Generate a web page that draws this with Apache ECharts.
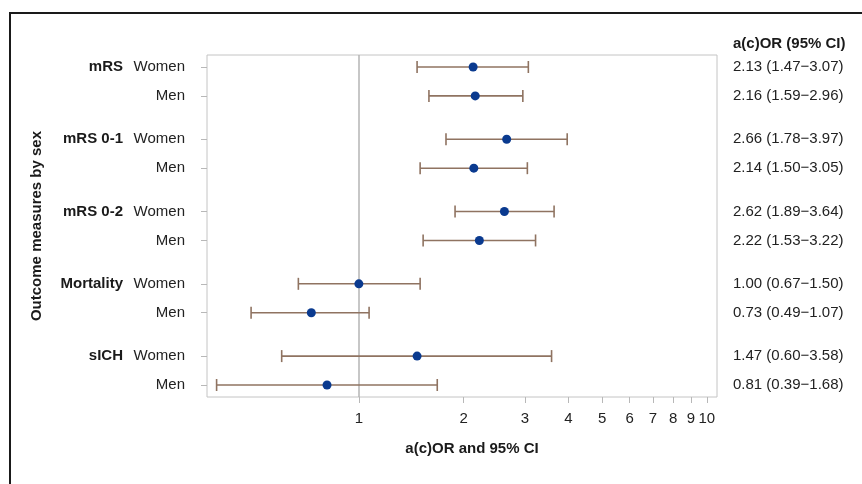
<!DOCTYPE html>
<html>
<head>
<meta charset="utf-8">
<script src="https://cdn.jsdelivr.net/npm/echarts@6/dist/echarts.min.js"></script>
<style>html,body{margin:0;padding:0;background:#fff}#c{width:862px;height:484px}</style>
</head>
<body>
<div id="c"></div>
<script>
var groups = ['mRS', 'mRS 0-1', 'mRS 0-2', 'Mortality', 'sICH'];
var sexes = ['Women', 'Men'];
var estimate = [2.13, 2.16, 2.66, 2.14, 2.62, 2.22, 1.00, 0.73, 1.47, 0.81];
var lower    = [1.47, 1.59, 1.78, 1.50, 1.89, 1.53, 0.67, 0.49, 0.60, 0.39];
var upper    = [3.07, 2.96, 3.97, 3.05, 3.64, 3.22, 1.50, 1.07, 3.58, 1.68];
var xTicks = [1, 2, 3, 4, 5, 6, 7, 8, 9, 10];

var FONT = "'Liberation Sans', Arial, sans-serif";
// vertical slot of each row: rows within a group 2 units apart, groups 5 units apart
var rowPos = estimate.map(function (v, i) { return Math.floor(i / 2) * 5 + (i % 2) * 2; });
function rowIndex(v) { return rowPos.indexOf(Math.round(v)); }
function fmt(v) { return v.toFixed(2); }

var pointData = estimate.map(function (v, i) { return [v, rowPos[i]]; });
var ciData = estimate.map(function (v, i) { return [lower[i], upper[i], rowPos[i]]; });

var chart = echarts.init(document.getElementById('c'));
chart.setOption({
  animation: false,
  textStyle: { fontFamily: FONT },
  grid: { left: 207, right: 145, top: 55, bottom: 87, show: true, borderColor: '#c4c4c4', borderWidth: 1, containLabel: false, outerBoundsMode: 'none' },
  title: {
    text: 'a(c)OR (95% CI)', left: 728, top: 31,
    textStyle: { fontFamily: FONT, fontSize: 15, fontWeight: 'bold', color: '#1a1a1a' }
  },
  graphic: [{
    type: 'rect', shape: { x: 10, y: 13, width: 900, height: 520 },
    style: { fill: 'none', stroke: '#1a1a1a', lineWidth: 2 }, silent: true, z: 100
  }],
  xAxis: {
    type: 'log', logBase: 10, min: 0.366, max: 10.7,
    name: 'a(c)OR and 95% CI', nameLocation: 'middle', nameGap: 44,
    nameTextStyle: { fontFamily: FONT, fontSize: 15, fontWeight: 'bold', color: '#1a1a1a', padding: [0, 0, 0, 20] },
    axisLine: { show: false, onZero: false },
    axisTick: { show: true, inside: false, length: 6, customValues: xTicks, lineStyle: { color: '#b8b8b8' } },
    minorTick: { show: false },
    axisLabel: { customValues: xTicks, margin: 14, fontSize: 15, color: '#222', fontFamily: FONT, formatter: function (v) { return String(Math.round(v)); } },
    splitLine: { show: false }
  },
  yAxis: [{
    type: 'value', inverse: true, min: -0.83, max: 22.83, position: 'left',
    name: 'Outcome measures by sex', nameLocation: 'middle', nameGap: 163, nameRotate: 90,
    nameTextStyle: { fontFamily: FONT, fontSize: 15, fontWeight: 'bold', color: '#1a1a1a' },
    axisLine: { show: false, onZero: false },
    axisTick: { show: true, length: 6, customValues: rowPos, lineStyle: { color: '#b8b8b8' } },
    axisLabel: {
      customValues: rowPos, margin: 22, fontSize: 15, color: '#222', fontFamily: FONT,
      formatter: function (v) {
        var i = rowIndex(v);
        if (i < 0) return '';
        var s = '{s|' + sexes[i % 2] + '}';
        return (i % 2 === 0 ? '{g|' + groups[Math.floor(i / 2)] + '}' : '') + s;
      },
      rich: {
        g: { fontFamily: FONT, fontSize: 15, fontWeight: 'bold', color: '#1a1a1a' },
        s: { fontFamily: FONT, fontSize: 15, color: '#222', width: 62, align: 'right' }
      }
    },
    splitLine: { show: false }
  }, {
    type: 'value', inverse: true, min: -0.83, max: 22.83, position: 'right',
    axisLine: { show: false, onZero: false }, axisTick: { show: false }, splitLine: { show: false },
    axisLabel: {
      customValues: rowPos, margin: 16, fontSize: 15, color: '#222', fontFamily: FONT,
      formatter: function (v) {
        var i = rowIndex(v);
        if (i < 0) return '';
        return fmt(estimate[i]) + ' (' + fmt(lower[i]) + '\u2212' + fmt(upper[i]) + ')';
      }
    }
  }],
  series: [{
    type: 'custom',
    data: ciData,
    encode: { x: [0, 1], y: 2 },
    renderItem: function (params, api) {
      var y = api.value(2);
      var p1 = api.coord([api.value(0), y]);
      var p2 = api.coord([api.value(1), y]);
      var h = 6;
      var st = { stroke: '#8f7361', lineWidth: 1.6 };
      return {
        type: 'group',
        children: [
          { type: 'line', shape: { x1: p1[0], y1: p1[1], x2: p2[0], y2: p2[1] }, style: st },
          { type: 'line', shape: { x1: p1[0], y1: p1[1] - h, x2: p1[0], y2: p1[1] + h }, style: st },
          { type: 'line', shape: { x1: p2[0], y1: p2[1] - h, x2: p2[0], y2: p2[1] + h }, style: st }
        ]
      };
    },
    z: 2
  }, {
    type: 'scatter',
    data: pointData,
    symbol: 'circle', symbolSize: 9,
    itemStyle: { color: '#0a3a8f', opacity: 1 },
    z: 3,
    markLine: {
      silent: true, symbol: 'none', label: { show: false },
      lineStyle: { color: '#b4b4b4', width: 1.5, type: 'solid' },
      data: [{ xAxis: 1 }],
      z: 1
    }
  }]
});
</script>
</body>
</html>
